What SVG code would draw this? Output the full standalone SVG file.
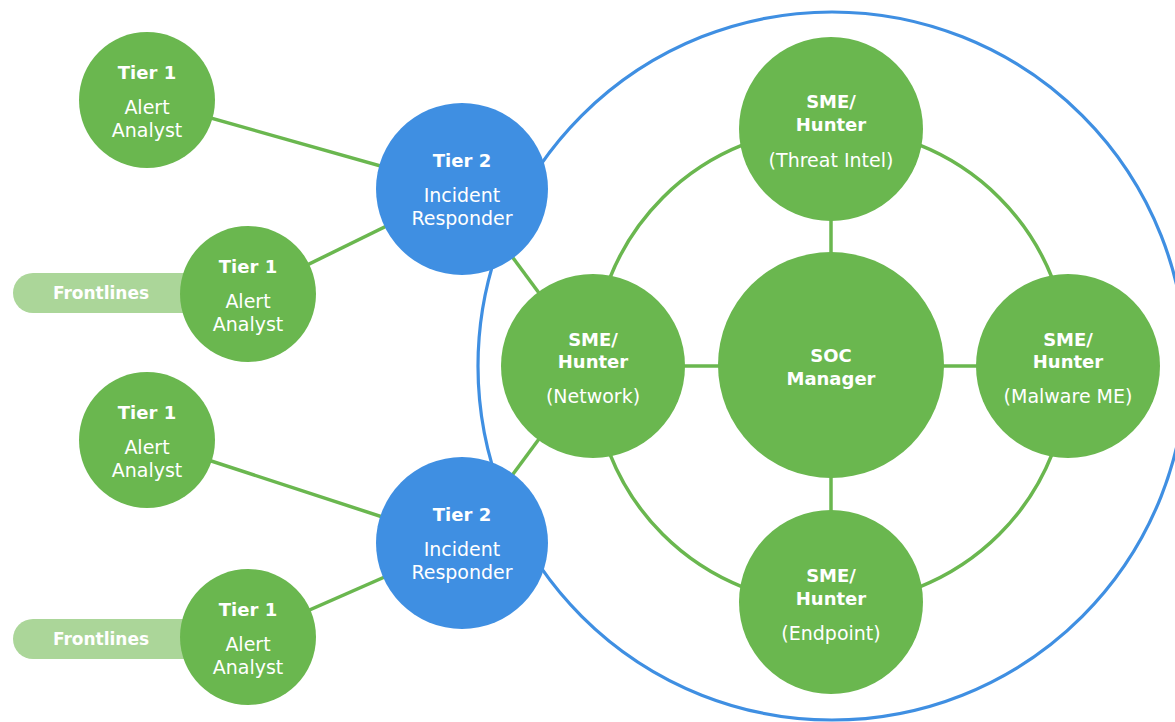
<svg xmlns="http://www.w3.org/2000/svg" width="1175" height="722" viewBox="0 0 1175 722">
<style>
.g{fill:#6ab74f}
.b{fill:#3f8fe2}
.pill{fill:#abd699}
.ln{stroke:#6ab74f;stroke-width:3.5;fill:none}
.outer{stroke:#3f8fe2;stroke-width:3.2;fill:none}
text{font-family:"DejaVu Sans","Liberation Sans",sans-serif;fill:#ffffff;text-anchor:middle;font-size:19px}
.h{font-weight:bold;font-size:18px}
.f{font-weight:bold;font-size:17px}
</style>
<rect width="1175" height="722" fill="#ffffff"/>
<circle class="outer" cx="832" cy="366" r="354"/>
<g id="connectors">
<line class="ln" x1="147" y1="100" x2="462" y2="189"/>
<line class="ln" x1="248" y1="294" x2="462" y2="189"/>
<line class="ln" x1="147" y1="440" x2="462" y2="543"/>
<line class="ln" x1="248" y1="637" x2="462" y2="543"/>
<line class="ln" x1="462" y1="189" x2="593" y2="366"/>
<line class="ln" x1="462" y1="543" x2="593" y2="366"/>
<circle class="ln" cx="831" cy="366" r="238"/>
<line class="ln" x1="831" y1="129" x2="831" y2="602"/>
<line class="ln" x1="593" y1="366" x2="1068" y2="366"/>
</g>
<g id="frontlines1"><rect class="pill" x="13" y="273" width="220" height="40" rx="20"/><text class="f" x="101" y="299">Frontlines</text></g>
<g id="frontlines2"><rect class="pill" x="13" y="619" width="220" height="40" rx="20"/><text class="f" x="101" y="645">Frontlines</text></g>
<g id="t1a"><circle class="g" cx="147" cy="100" r="68"/><text class="h" x="147" y="79">Tier 1</text><text x="147" y="114">Alert</text><text x="147" y="137">Analyst</text></g>
<g id="t1b"><circle class="g" cx="248" cy="294" r="68"/><text class="h" x="248" y="273">Tier 1</text><text x="248" y="308">Alert</text><text x="248" y="331">Analyst</text></g>
<g id="t1c"><circle class="g" cx="147" cy="440" r="68"/><text class="h" x="147" y="419">Tier 1</text><text x="147" y="454">Alert</text><text x="147" y="477">Analyst</text></g>
<g id="t1d"><circle class="g" cx="248" cy="637" r="68"/><text class="h" x="248" y="616">Tier 1</text><text x="248" y="651">Alert</text><text x="248" y="674">Analyst</text></g>
<g id="t2a"><circle class="b" cx="462" cy="189" r="86"/><text class="h" x="462" y="167">Tier 2</text><text x="462" y="202">Incident</text><text x="462" y="225">Responder</text></g>
<g id="t2b"><circle class="b" cx="462" cy="543" r="86"/><text class="h" x="462" y="521">Tier 2</text><text x="462" y="556">Incident</text><text x="462" y="579">Responder</text></g>
<g id="threat"><circle class="g" cx="831" cy="129" r="92"/><text class="h" x="831" y="108">SME/</text><text class="h" x="831" y="131">Hunter</text><text x="831" y="167">(Threat Intel)</text></g>
<g id="network"><circle class="g" cx="593" cy="366" r="92"/><text class="h" x="593" y="346">SME/</text><text class="h" x="593" y="368">Hunter</text><text x="593" y="403">(Network)</text></g>
<g id="malware"><circle class="g" cx="1068" cy="366" r="92"/><text class="h" x="1068" y="346">SME/</text><text class="h" x="1068" y="368">Hunter</text><text x="1068" y="403">(Malware ME)</text></g>
<g id="endpoint"><circle class="g" cx="831" cy="602" r="92"/><text class="h" x="831" y="582">SME/</text><text class="h" x="831" y="605">Hunter</text><text x="831" y="640">(Endpoint)</text></g>
<g id="soc"><circle class="g" cx="831" cy="365" r="113"/><text class="h" x="831" y="362">SOC</text><text class="h" x="831" y="385">Manager</text></g>
</svg>
